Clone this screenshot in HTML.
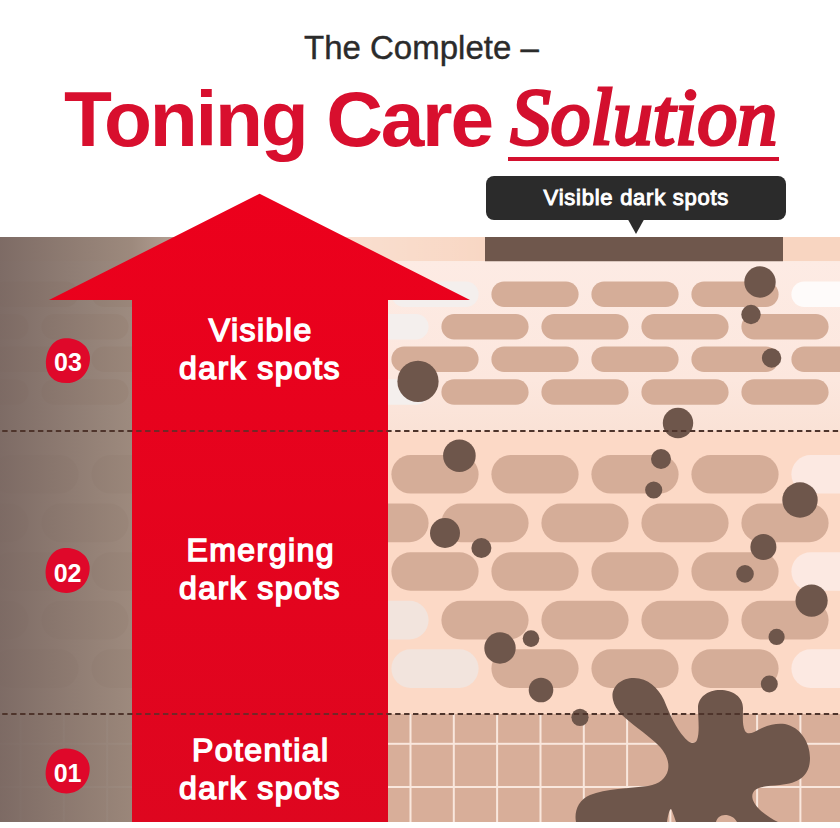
<!DOCTYPE html>
<html><head><meta charset="utf-8">
<style>
html,body{margin:0;padding:0;}
body{width:840px;height:828px;overflow:hidden;background:#fff;position:relative;font-family:"Liberation Sans",sans-serif;}
.t{position:absolute;white-space:nowrap;}
#sub{left:304px;top:28px;font-size:33px;color:#2b2b2b;line-height:40px;-webkit-text-stroke:0.4px #2b2b2b;}
#main{left:64px;top:77px;font-size:78.5px;letter-spacing:-2.2px;font-weight:bold;color:#d80f2e;line-height:84px;}
#sol{left:510.5px;top:75px;font-size:80px;font-style:italic;font-family:"Liberation Serif",serif;color:#d3102e;-webkit-text-stroke:3.2px #d3102e;line-height:84px;}
#ul{position:absolute;left:508px;top:156.5px;width:271px;height:4px;background:#d3102e;}
#tip{position:absolute;left:486px;top:176px;width:300px;height:44px;background:#2b2b2b;border-radius:8px;}
#tiptxt{left:486px;top:176px;width:300px;text-align:center;font-size:22px;letter-spacing:0.75px;text-indent:0.75px;color:#fff;line-height:44px;-webkit-text-stroke:1px #fff;}
.lab{position:absolute;left:132px;width:256px;text-align:center;color:#fff;font-size:32px;line-height:37.6px;letter-spacing:1.45px;text-indent:1.45px;-webkit-text-stroke:1.5px #fff;}
.badge{position:absolute;color:#fff;font-weight:bold;font-size:25px;width:44px;text-align:center;line-height:44px;}

</style></head><body>
<svg width="840" height="828" style="position:absolute;left:0;top:0">
<defs>
<clipPath id="ac"><rect x="132" y="400" width="256" height="340"/></clipPath>
<linearGradient id="lc" x1="0" x2="200" y1="0" y2="0" gradientUnits="userSpaceOnUse">
<stop offset="0" stop-color="#7b6963" stop-opacity="0.98"/>
<stop offset="0.66" stop-color="#958377" stop-opacity="0.92"/>
<stop offset="0.9" stop-color="#b3a095" stop-opacity="0.94"/>
<stop offset="1" stop-color="#c9b3a6" stop-opacity="0"/>
</linearGradient>
<linearGradient id="ar" x1="0" x2="0" y1="0" y2="1">
<stop offset="0" stop-color="#ec001c"/>
<stop offset="1" stop-color="#de061f"/>
</linearGradient>
<linearGradient id="glow" x1="300" x2="520" y1="0" y2="0" gradientUnits="userSpaceOnUse">
<stop offset="0" stop-color="#ffffff" stop-opacity="0.3"/>
<stop offset="1" stop-color="#ffffff" stop-opacity="0"/>
</linearGradient>
<linearGradient id="ub" x1="0" x2="0" y1="261" y2="431" gradientUnits="userSpaceOnUse">
<stop offset="0" stop-color="#fdebe4"/>
<stop offset="0.7" stop-color="#fce7de"/>
<stop offset="1" stop-color="#fae2d6"/>
</linearGradient>
</defs>
<rect x="0" y="237" width="840" height="24.5" fill="#f8d5c1"/>
<rect x="200" y="237" width="320" height="24.5" fill="url(#glow)"/>
<rect x="485" y="237" width="298" height="24.5" fill="#6f574c"/>
<rect x="0" y="261.5" width="840" height="169.5" fill="url(#ub)"/>
<rect x="0" y="431" width="840" height="283" fill="#fcd9c6"/>
<rect x="0" y="714" width="840" height="108" fill="#d8ae99"/>
<g fill="#f9e7dd"><rect x="19.5" y="714" width="2" height="108"/>
<rect x="62.8" y="714" width="2" height="108"/>
<rect x="106.2" y="714" width="2" height="108"/>
<rect x="149.5" y="714" width="2" height="108"/>
<rect x="192.8" y="714" width="2" height="108"/>
<rect x="236.1" y="714" width="2" height="108"/>
<rect x="279.5" y="714" width="2" height="108"/>
<rect x="322.8" y="714" width="2" height="108"/>
<rect x="366.1" y="714" width="2" height="108"/>
<rect x="409.5" y="714" width="2" height="108"/>
<rect x="452.8" y="714" width="2" height="108"/>
<rect x="496.1" y="714" width="2" height="108"/>
<rect x="539.5" y="714" width="2" height="108"/>
<rect x="582.8" y="714" width="2" height="108"/>
<rect x="626.1" y="714" width="2" height="108"/>
<rect x="669.4" y="714" width="2" height="108"/>
<rect x="712.8" y="714" width="2" height="108"/>
<rect x="756.1" y="714" width="2" height="108"/>
<rect x="799.4" y="714" width="2" height="108"/>
<rect x="842.8" y="714" width="2" height="108"/><rect x="0" y="742.8" width="840" height="2"/><rect x="0" y="786" width="840" height="2"/></g>
<rect x="-8.6" y="281.5" width="87.2" height="25.5" rx="12.75" fill="#d5ad98"/>
<rect x="91.4" y="281.5" width="87.2" height="25.5" rx="12.75" fill="#d5ad98"/>
<rect x="191.4" y="281.5" width="87.2" height="25.5" rx="12.75" fill="#d5ad98"/>
<rect x="291.4" y="281.5" width="87.2" height="25.5" rx="12.75" fill="#d5ad98"/>
<rect x="391.4" y="281.5" width="87.2" height="25.5" rx="12.75" fill="#f4efed"/>
<rect x="491.4" y="281.5" width="87.2" height="25.5" rx="12.75" fill="#d5ad98"/>
<rect x="591.4" y="281.5" width="87.2" height="25.5" rx="12.75" fill="#d5ad98"/>
<rect x="691.4" y="281.5" width="87.2" height="25.5" rx="12.75" fill="#d5ad98"/>
<rect x="791.4" y="281.5" width="87.2" height="25.5" rx="12.75" fill="#fefbfa"/>
<rect x="-58.6" y="314.0" width="87.2" height="25.5" rx="12.75" fill="#d5ad98"/>
<rect x="41.4" y="314.0" width="87.2" height="25.5" rx="12.75" fill="#d5ad98"/>
<rect x="141.4" y="314.0" width="87.2" height="25.5" rx="12.75" fill="#d5ad98"/>
<rect x="241.4" y="314.0" width="87.2" height="25.5" rx="12.75" fill="#d5ad98"/>
<rect x="341.4" y="314.0" width="87.2" height="25.5" rx="12.75" fill="#f4efed"/>
<rect x="441.4" y="314.0" width="87.2" height="25.5" rx="12.75" fill="#d5ad98"/>
<rect x="541.4" y="314.0" width="87.2" height="25.5" rx="12.75" fill="#d5ad98"/>
<rect x="641.4" y="314.0" width="87.2" height="25.5" rx="12.75" fill="#d5ad98"/>
<rect x="741.4" y="314.0" width="87.2" height="25.5" rx="12.75" fill="#d5ad98"/>
<rect x="-8.6" y="346.6" width="87.2" height="25.5" rx="12.75" fill="#d5ad98"/>
<rect x="91.4" y="346.6" width="87.2" height="25.5" rx="12.75" fill="#d5ad98"/>
<rect x="191.4" y="346.6" width="87.2" height="25.5" rx="12.75" fill="#d5ad98"/>
<rect x="291.4" y="346.6" width="87.2" height="25.5" rx="12.75" fill="#d5ad98"/>
<rect x="391.4" y="346.6" width="87.2" height="25.5" rx="12.75" fill="#d5ad98"/>
<rect x="491.4" y="346.6" width="87.2" height="25.5" rx="12.75" fill="#d5ad98"/>
<rect x="591.4" y="346.6" width="87.2" height="25.5" rx="12.75" fill="#d5ad98"/>
<rect x="691.4" y="346.6" width="87.2" height="25.5" rx="12.75" fill="#d5ad98"/>
<rect x="791.4" y="346.6" width="87.2" height="25.5" rx="12.75" fill="#d5ad98"/>
<rect x="-58.6" y="379.2" width="87.2" height="25.5" rx="12.75" fill="#d5ad98"/>
<rect x="41.4" y="379.2" width="87.2" height="25.5" rx="12.75" fill="#d5ad98"/>
<rect x="141.4" y="379.2" width="87.2" height="25.5" rx="12.75" fill="#d5ad98"/>
<rect x="241.4" y="379.2" width="87.2" height="25.5" rx="12.75" fill="#d5ad98"/>
<rect x="341.4" y="379.2" width="87.2" height="25.5" rx="12.75" fill="#f4efed"/>
<rect x="441.4" y="379.2" width="87.2" height="25.5" rx="12.75" fill="#d5ad98"/>
<rect x="541.4" y="379.2" width="87.2" height="25.5" rx="12.75" fill="#d5ad98"/>
<rect x="641.4" y="379.2" width="87.2" height="25.5" rx="12.75" fill="#d5ad98"/>
<rect x="741.4" y="379.2" width="87.2" height="25.5" rx="12.75" fill="#d5ad98"/>
<rect x="-8.6" y="455.0" width="87.2" height="38.6" rx="19.30" fill="#d5ad98"/>
<rect x="91.4" y="455.0" width="87.2" height="38.6" rx="19.30" fill="#d5ad98"/>
<rect x="191.4" y="455.0" width="87.2" height="38.6" rx="19.30" fill="#d5ad98"/>
<rect x="291.4" y="455.0" width="87.2" height="38.6" rx="19.30" fill="#d5ad98"/>
<rect x="391.4" y="455.0" width="87.2" height="38.6" rx="19.30" fill="#d5ad98"/>
<rect x="491.4" y="455.0" width="87.2" height="38.6" rx="19.30" fill="#d5ad98"/>
<rect x="591.4" y="455.0" width="87.2" height="38.6" rx="19.30" fill="#d5ad98"/>
<rect x="691.4" y="455.0" width="87.2" height="38.6" rx="19.30" fill="#d5ad98"/>
<rect x="791.4" y="455.0" width="87.2" height="38.6" rx="19.30" fill="#fce9e2"/>
<rect x="-58.6" y="503.6" width="87.2" height="38.6" rx="19.30" fill="#d5ad98"/>
<rect x="41.4" y="503.6" width="87.2" height="38.6" rx="19.30" fill="#d5ad98"/>
<rect x="141.4" y="503.6" width="87.2" height="38.6" rx="19.30" fill="#d5ad98"/>
<rect x="241.4" y="503.6" width="87.2" height="38.6" rx="19.30" fill="#d5ad98"/>
<rect x="341.4" y="503.6" width="87.2" height="38.6" rx="19.30" fill="#d5ad98"/>
<rect x="441.4" y="503.6" width="87.2" height="38.6" rx="19.30" fill="#d5ad98"/>
<rect x="541.4" y="503.6" width="87.2" height="38.6" rx="19.30" fill="#d5ad98"/>
<rect x="641.4" y="503.6" width="87.2" height="38.6" rx="19.30" fill="#d5ad98"/>
<rect x="741.4" y="503.6" width="87.2" height="38.6" rx="19.30" fill="#d5ad98"/>
<rect x="-8.6" y="552.2" width="87.2" height="38.6" rx="19.30" fill="#d5ad98"/>
<rect x="91.4" y="552.2" width="87.2" height="38.6" rx="19.30" fill="#d5ad98"/>
<rect x="191.4" y="552.2" width="87.2" height="38.6" rx="19.30" fill="#d5ad98"/>
<rect x="291.4" y="552.2" width="87.2" height="38.6" rx="19.30" fill="#d5ad98"/>
<rect x="391.4" y="552.2" width="87.2" height="38.6" rx="19.30" fill="#d5ad98"/>
<rect x="491.4" y="552.2" width="87.2" height="38.6" rx="19.30" fill="#d5ad98"/>
<rect x="591.4" y="552.2" width="87.2" height="38.6" rx="19.30" fill="#d5ad98"/>
<rect x="691.4" y="552.2" width="87.2" height="38.6" rx="19.30" fill="#d5ad98"/>
<rect x="791.4" y="552.2" width="87.2" height="38.6" rx="19.30" fill="#fce9e2"/>
<rect x="-58.6" y="600.8" width="87.2" height="38.6" rx="19.30" fill="#d5ad98"/>
<rect x="41.4" y="600.8" width="87.2" height="38.6" rx="19.30" fill="#d5ad98"/>
<rect x="141.4" y="600.8" width="87.2" height="38.6" rx="19.30" fill="#d5ad98"/>
<rect x="241.4" y="600.8" width="87.2" height="38.6" rx="19.30" fill="#d5ad98"/>
<rect x="341.4" y="600.8" width="87.2" height="38.6" rx="19.30" fill="#f2e4dd"/>
<rect x="441.4" y="600.8" width="87.2" height="38.6" rx="19.30" fill="#d5ad98"/>
<rect x="541.4" y="600.8" width="87.2" height="38.6" rx="19.30" fill="#d5ad98"/>
<rect x="641.4" y="600.8" width="87.2" height="38.6" rx="19.30" fill="#d5ad98"/>
<rect x="741.4" y="600.8" width="87.2" height="38.6" rx="19.30" fill="#d5ad98"/>
<rect x="-8.6" y="649.3" width="87.2" height="38.6" rx="19.30" fill="#d5ad98"/>
<rect x="91.4" y="649.3" width="87.2" height="38.6" rx="19.30" fill="#d5ad98"/>
<rect x="191.4" y="649.3" width="87.2" height="38.6" rx="19.30" fill="#d5ad98"/>
<rect x="291.4" y="649.3" width="87.2" height="38.6" rx="19.30" fill="#d5ad98"/>
<rect x="391.4" y="649.3" width="87.2" height="38.6" rx="19.30" fill="#f2e4dd"/>
<rect x="491.4" y="649.3" width="87.2" height="38.6" rx="19.30" fill="#d5ad98"/>
<rect x="591.4" y="649.3" width="87.2" height="38.6" rx="19.30" fill="#d5ad98"/>
<rect x="691.4" y="649.3" width="87.2" height="38.6" rx="19.30" fill="#d5ad98"/>
<rect x="791.4" y="649.3" width="87.2" height="38.6" rx="19.30" fill="#fce9e2"/>
<g fill="#6e564b">
<circle cx="760" cy="282" r="15.7"/>
<circle cx="751" cy="314.5" r="9.7"/>
<circle cx="771.6" cy="358" r="9.7"/>
<circle cx="678" cy="423" r="15.2"/>
<circle cx="418" cy="381.4" r="20.6"/>
<circle cx="459.4" cy="455.7" r="16.3"/>
<circle cx="661" cy="459" r="10"/>
<circle cx="653.7" cy="490" r="8.6"/>
<circle cx="800" cy="500" r="17.7"/>
<circle cx="445" cy="533" r="15"/>
<circle cx="481.4" cy="548" r="10"/>
<circle cx="763.4" cy="547" r="13"/>
<circle cx="745" cy="573.9" r="8.8"/>
<circle cx="811.6" cy="600.6" r="16.1"/>
<circle cx="500" cy="648" r="15.7"/>
<circle cx="531" cy="638.6" r="8.3"/>
<circle cx="776.6" cy="636.9" r="8.1"/>
<circle cx="541" cy="690" r="12.3"/>
<circle cx="769.3" cy="684" r="8.5"/>
<circle cx="580" cy="717.3" r="8.6"/>
<path d="M 613,700 C 610,688 620,678 634,678 C 648,678 658,688 664,700 C 670,715 676,728 684,737 C 688,742 694,746 697,740 C 700,732 698,718 698,708 C 698,697 708,690 720,690 C 733,690 743,697 743,708 C 743,716 742,725 745,731 C 748,736 754,732 760,729 C 770,724 778,723 785,724 C 800,727 810,742 810,758 C 810,775 800,783 780,785 C 770,786 760,786 755,790 C 750,795 752,802 760,810 C 766,815 772,819 778,822 L 737,822 C 734,817 730,815 725,815 C 720,815 717,818 716,822 L 676,822 C 674,816 672,810 671,809 C 669,810 668,816 667,822 L 576,822 C 574,812 578,800 590,795 C 605,789 630,788 648,786 C 660,784 666,778 668,770 C 670,760 664,750 656,743 C 645,733 630,723 622,715 C 617,710 614,705 613,700 Z"/>
</g>
<rect x="0" y="237" width="200" height="585" fill="url(#lc)"/>
<g stroke="#4e342b" stroke-width="1.9" stroke-dasharray="5.4 3.53">
<line x1="-6.7" y1="431" x2="840" y2="431"/>
<line x1="-6.7" y1="714" x2="840" y2="714"/>
</g>
<polygon points="259.6,193.7 470,300 388,300 388,822 132,822 132,300 49,300" fill="url(#ar)"/>
<g stroke="#4e342b" stroke-width="1.9" stroke-dasharray="5.4 3.53" opacity="0.75" clip-path="url(#ac)">
<line x1="-6.7" y1="431" x2="388" y2="431"/>
<line x1="-6.7" y1="714" x2="388" y2="714"/>
</g>
<path d="M628,219.5 L644,219.5 L636,234 Z" fill="#2b2b2b"/>
<g fill="#df082a">
<path transform="translate(67.9,360.7)" d="M-3,-22.4 C9,-23 21,-16 22,-4 C23,9 14,22.2 -1,22.4 C-14,22.6 -22,14 -22,3 C-22,-10 -15,-22 -3,-22.4 Z"/>
<path transform="translate(67.6,570.5)" d="M-3,-22.4 C9,-23 21,-16 22,-4 C23,9 14,22.2 -1,22.4 C-14,22.6 -22,14 -22,3 C-22,-10 -15,-22 -3,-22.4 Z"/>
<path transform="translate(67.6,771)" d="M-3,-22.4 C9,-23 21,-16 22,-4 C23,9 14,22.2 -1,22.4 C-14,22.6 -22,14 -22,3 C-22,-10 -15,-22 -3,-22.4 Z"/>
</g>
</svg>

<div class="t" id="sub">The Complete –</div>
<div class="t" id="main">Toning Care</div>
<div class="t" id="sol">Solution</div>
<div id="ul"></div>
<div id="tip"></div>
<div class="t" id="tiptxt">Visible dark spots</div>
<div class="lab" style="top:312px">Visible<br>dark spots</div>
<div class="lab" style="top:532px">Emerging<br>dark spots</div>
<div class="lab" style="top:732px">Potential<br>dark spots</div>
<div class="badge" style="left:46px;top:340px">03</div>
<div class="badge" style="left:45.6px;top:550.5px">02</div>
<div class="badge" style="left:45.6px;top:751px">01</div>

</body></html>
